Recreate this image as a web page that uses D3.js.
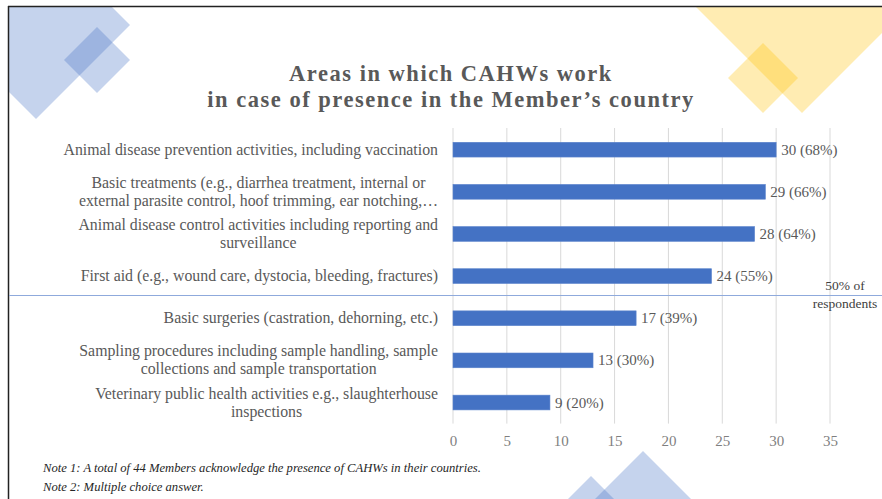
<!DOCTYPE html>
<html>
<head>
<meta charset="utf-8">
<script src="https://cdn.jsdelivr.net/npm/d3@7"></script>
<style>
  html, body { margin: 0; padding: 0; background: #fff; }
  svg { display: block; }
</style>
</head>
<body>
<svg id="chart" width="882" height="499"></svg>
<script>
// ---------- DATA ----------
const titleLines = ["Areas in which CAHWs work", "in case of presence in the Member\u2019s country"];
const categories = [
  "Animal disease prevention activities, including vaccination",
  "Basic treatments (e.g., diarrhea treatment, internal or\nexternal parasite control, hoof trimming, ear notching,\u2026",
  "Animal disease control activities including reporting and\nsurveillance",
  "First aid (e.g., wound care, dystocia, bleeding, fractures)",
  "Basic surgeries (castration, dehorning, etc.)",
  "Sampling procedures including sample handling, sample\ncollections and sample transportation",
  "Veterinary public health activities e.g., slaughterhouse\ninspections"
];
const counts = [30, 29, 28, 24, 17, 13, 9];
const percents = [68, 66, 64, 55, 39, 30, 20];
const tickValues = [0, 5, 10, 15, 20, 25, 30, 35];
const thresholdLabel = ["50% of", "respondents"];
const notes = [
  "Note 1: A total of 44 Members acknowledge the presence of CAHWs in their countries.",
  "Note 2: Multiple choice answer."
];

// ---------- SETUP ----------
const svg = d3.select("#chart");
const serif = "'Liberation Serif', 'DejaVu Serif', serif";

function fitSize(sel, base, target) {
  sel.style("font-size", base + "px");
  let w = 0;
  sel.each(function () { w = Math.max(w, this.getComputedTextLength()); });
  const s = base * target / w;
  sel.style("font-size", s + "px");
  return s;
}

// ---------- DECORATIONS ----------
const deco = svg.append("g");
function diamond(cx, cy, r, color, op) {
  deco.append("path")
    .attr("d", `M${cx},${cy - r}L${cx + r},${cy}L${cx},${cy + r}L${cx - r},${cy}Z`)
    .attr("fill", color).attr("fill-opacity", op);
}
svg.append("clipPath").attr("id", "frame")
  .append("rect").attr("x", 9).attr("y", 7).attr("width", 873).attr("height", 492);
deco.attr("clip-path", "url(#frame)");
diamond(36, 25, 94, "#4472c4", 0.31);
diamond(97, 60, 33, "#4472c4", 0.31);
diamond(802, -10, 123, "#ffc000", 0.3);
diamond(763, 78, 35, "#ffc000", 0.3);
diamond(643, 531, 80, "#4472c4", 0.31);
diamond(591, 516, 40, "#4472c4", 0.31);

// frame lines
svg.append("line").attr("x1", 8.5).attr("x2", 8.5).attr("y1", 6).attr("y2", 499)
  .attr("stroke", "#222").attr("stroke-width", 1.5);
svg.append("line").attr("x1", 8).attr("x2", 882).attr("y1", 6.5).attr("y2", 6.5)
  .attr("stroke", "#222").attr("stroke-width", 1.5);

// ---------- TITLE ----------
const tl = svg.append("g").selectAll("text").data(titleLines).join("text")
  .attr("x", 451).attr("y", (d, i) => 81 + i * 26)
  .attr("text-anchor", "middle")
  .attr("font-family", serif).attr("font-weight", "bold")
  .attr("fill", "#595959").style("font-size", "22.5px")
  .text(d => d);
{
  const n2 = tl.filter((d, i) => i === 1).node();
  const w = n2.getComputedTextLength();
  const ls = Math.max(0, (486 - w) / (titleLines[1].length - 1));
  tl.style("letter-spacing", ls + "px");
}

// ---------- SCALES ----------
const x = d3.scaleLinear().domain([0, 35]).range([453, 830]);
const y = d3.scaleBand().domain(categories).range([128.6, 423.6])
  .paddingInner(0.65).paddingOuter(0.325);
const plotTop = 128, plotBottom = 423.6;

// gridlines
svg.append("g").selectAll("line").data(tickValues).join("line")
  .attr("x1", d => x(d)).attr("x2", d => x(d))
  .attr("y1", plotTop).attr("y2", plotBottom)
  .attr("stroke", "#d9d9d9").attr("stroke-width", 1);

// x axis labels
const xAxis = svg.append("g").attr("transform", `translate(0,${plotBottom})`)
  .call(d3.axisBottom(x).tickValues(tickValues).tickSize(0).tickPadding(18));
xAxis.select(".domain").remove();
xAxis.selectAll("text").attr("font-family", serif).attr("font-size", 15)
  .attr("fill", "#7f7f7f").attr("dy", "0.3em");

// 50% line
svg.append("line").attr("x1", 9).attr("x2", 882).attr("y1", 295.5).attr("y2", 295.5)
  .attr("stroke", "#8faadc").attr("stroke-width", 1);
svg.append("g").selectAll("text").data(thresholdLabel).join("text")
  .attr("x", 845).attr("y", (d, i) => 290 + i * 17.5)
  .attr("text-anchor", "middle")
  .attr("font-family", serif).attr("font-size", 13.5).attr("fill", "#404040")
  .text(d => d);

// bars
svg.append("g").selectAll("rect").data(categories).join("rect")
  .attr("x", x(0)).attr("y", d => y(d))
  .attr("width", (d, i) => x(counts[i]) - x(0))
  .attr("height", y.bandwidth())
  .attr("fill", "#4472c4").attr("stroke", "#5b83cc").attr("stroke-width", 0.6);

// value labels
svg.append("g").selectAll("text").data(categories).join("text")
  .attr("x", (d, i) => x(counts[i]) + 5)
  .attr("y", d => y(d) + y.bandwidth() / 2 + 5)
  .attr("font-family", serif).attr("font-size", 15).attr("fill", "#595959")
  .text((d, i) => `${counts[i]} (${percents[i]}%)`);

// category labels
const catG = svg.append("g");
const lineH = 18;
const groups = catG.selectAll("g").data(categories).join("g");
groups.each(function (d) {
  const lines = d.split("\n");
  const g = d3.select(this);
  const cy = y(d) + y.bandwidth() / 2;
  g.selectAll("text").data(lines).join("text")
    .attr("y", (l, j) => cy + 5 + (j - (lines.length - 1) / 2) * lineH)
    .attr("text-anchor", "middle")
    .attr("font-family", serif).attr("fill", "#595959")
    .text(l => l);
});
const allCat = catG.selectAll("text");
const longest = allCat.filter(t => t === categories[0]);
const cs = fitSize(longest, 14, 375);
allCat.style("font-size", cs + "px");
groups.each(function () {
  const g = d3.select(this);
  let w = 0;
  g.selectAll("text").each(function () { w = Math.max(w, this.getComputedTextLength()); });
  g.selectAll("text").attr("x", 438 - w / 2);
});

// notes
const nt = svg.append("g").selectAll("text").data(notes).join("text")
  .attr("x", 43).attr("y", (d, i) => 472 + i * 19)
  .attr("font-family", serif).attr("font-style", "italic").attr("fill", "#262626")
  .text(d => d);
const ns = fitSize(nt.filter((d, i) => i === 0), 12, 438);
nt.style("font-size", ns + "px");
</script>
</body>
</html>
